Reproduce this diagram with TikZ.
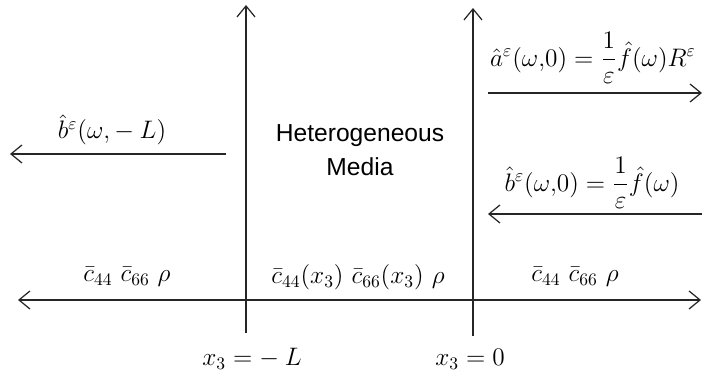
\documentclass[tikz,border=0pt]{standalone}
\usepackage{amsmath}
\usepackage{amssymb}
\usepackage{fontspec}
\setsansfont{Liberation Sans}
\usepackage{tikz}
\usetikzlibrary{calc,arrows.meta,positioning}

\begin{document}
\begin{tikzpicture}[
    axis/.style={black!85, line width=0.7pt, -{Straight Barb[length=2.2mm,width=3.6mm]}},
    lbl/.style={font=\fontsize{14}{16}\selectfont, inner sep=1pt},
    every node/.style={lbl}
  ]
        \useasboundingbox (0,0) rectangle (14.08,7.66);
        % interfaces
        \coordinate (iLbot) at (4.92,1.0);
        \coordinate (iLtop) at (4.92,7.56);
        \coordinate (iRbot) at (9.46,0.94);
        \coordinate (iRtop) at (9.46,7.5);
        \draw[axis] (iLbot) -- (iLtop);
        \draw[axis] (iRbot) -- (iRtop);
        % x_3 axis
        \coordinate (axL) at (0.36,1.66);
        \coordinate (axR) at (14.02,1.66);
        \draw[axis, {Straight Barb[length=2.2mm,width=3.6mm]}-{Straight Barb[length=2.2mm,width=3.6mm]}] (axL) -- (axR);
        % waves
        \coordinate (aS) at (9.76,5.8);
        \coordinate (aE) at (14.04,5.8);
        \coordinate (bS) at (14.04,3.38);
        \coordinate (bE) at (9.76,3.38);
        \coordinate (lS) at (4.52,4.58);
        \coordinate (lE) at (0.2,4.58);
        \draw[axis] (aS) -- (aE);
        \draw[axis] (bS) -- (bE);
        \draw[axis] (lS) -- (lE);
        % labels
        \node (aLab) at (11.86,6.5) {$\hat{a}^{\varepsilon}(\omega{,}0)=\dfrac{1}{\varepsilon}\hat{f}(\omega)R^{\varepsilon}$};
        \node (bLab) at (11.84,4.0) {$\hat{b}^{\varepsilon}(\omega{,}0)=\dfrac{1}{\varepsilon}\hat{f}(\omega)$};
        \node (bLLab) at (2.24,5.06) {$\hat{b}^{\varepsilon}(\omega,-\mkern4mu L)$};
        \node[align=center, font=\sffamily\fontsize{14}{19}\selectfont] (media) at (7.2,4.66) {Heterogeneous\\Media};
        \node (cLeft) at (2.54,2.12) {$\bar{c}_{44}\ \bar{c}_{66}\ \rho$};
        \node (cMid) at (7.16,2.12) {$\bar{c}_{44}(x_3)\ \bar{c}_{66}(x_3)\ \rho$};
        \node (cRight) at (11.5,2.12) {$\bar{c}_{44}\ \bar{c}_{66}\ \rho$};
        \node (xL) at (5.04,0.48) {$x_3=-\mkern4mu L$};
        \node (x0) at (9.4,0.48) {$x_3=0$};
    \end{tikzpicture}
\end{document}
